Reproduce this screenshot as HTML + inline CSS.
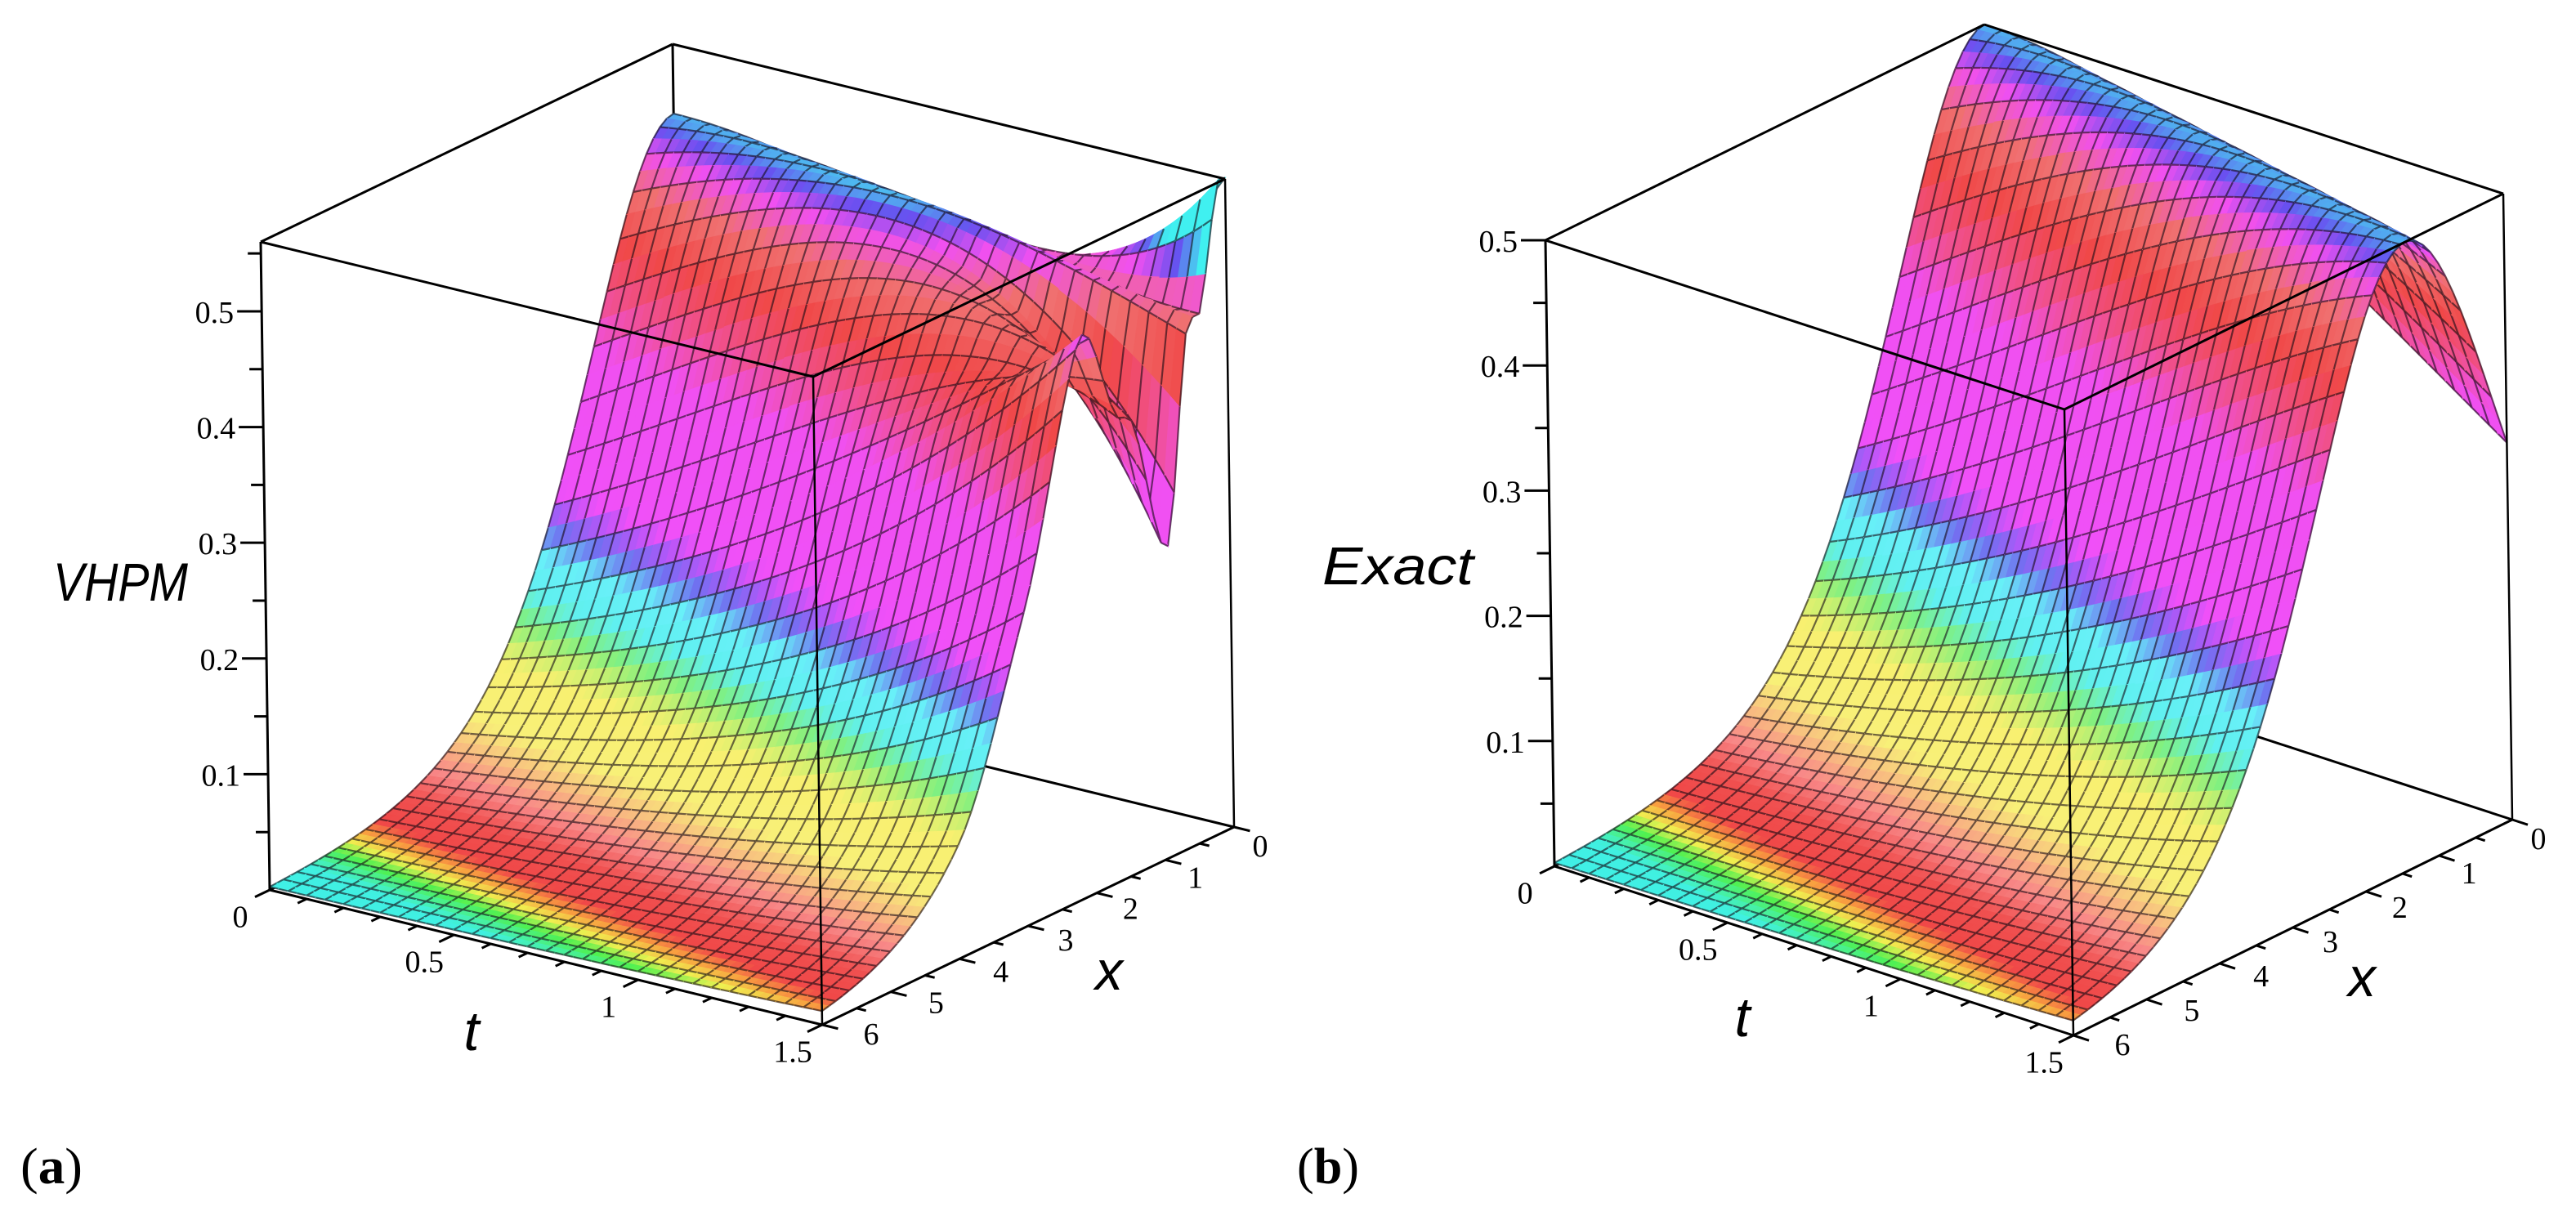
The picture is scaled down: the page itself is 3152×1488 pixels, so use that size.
<!DOCTYPE html>
<html><head><meta charset="utf-8"><style>
html,body{margin:0;padding:0;background:#fff;}
svg{display:block;}
</style></head><body>
<svg id="fig" width="3152" height="1488" viewBox="0 0 3152 1488" xmlns="http://www.w3.org/2000/svg">
<rect x="0" y="0" width="3152" height="1488" fill="#fff"/>
<g id="panelA"></g>
<g id="panelB"></g>
<text x="63" y="1448" font-family="Liberation Serif, serif" font-size="62" text-anchor="middle" textLength="76" lengthAdjust="spacingAndGlyphs">(<tspan font-weight="bold">a</tspan>)</text>
<text x="1625" y="1448" font-family="Liberation Serif, serif" font-size="62" text-anchor="middle" textLength="76" lengthAdjust="spacingAndGlyphs">(<tspan font-weight="bold">b</tspan>)</text>
<text x="65" y="735" font-family="Liberation Sans, sans-serif" font-style="italic" font-size="66" textLength="165" lengthAdjust="spacingAndGlyphs">VHPM</text>
<text x="1618" y="715" font-family="Liberation Sans, sans-serif" font-style="italic" font-size="65" textLength="185" lengthAdjust="spacingAndGlyphs">Exact</text>
</svg>
<script>
// ---- data ----
const tTicks = [0, 0.5, 1, 1.5];
const xTicks = [0, 1, 2, 3, 4, 5, 6];
const zTicksA = [0.1, 0.2, 0.3, 0.4, 0.5];
const zTicksB = [0.1, 0.2, 0.3, 0.4, 0.5];
const solitonAmplitude = [0.5];
const solitonWidth = [0.55];
const solitonSpeed = [0.9];
const vhpmCorrX = [0, 0.5, 0.95, 1.5, 2.2, 3, 4, 6];
const vhpmCorrV = [0.26, 0.05, -0.21, -0.1, 0.07, 0.03, 0, 0];
const colorLevels = [0, 0.005, 0.0075, 0.0095, 0.012, 0.015, 0.024, 0.036, 0.05, 0.065, 0.1, 0.115, 0.13, 0.15, 0.175, 0.195, 0.21, 0.225, 0.33, 0.37, 0.41, 0.45, 0.478, 0.492, 0.505];
const colorValues = ['#40f0f0','#40f0e0','#50f050','#f0f050','#f8a040','#f04848','#f05050','#f88888','#f8c080','#f8f078','#f8f070','#c8f070','#80f080','#60f0f0','#68f0f8','#7070f0','#b058f8','#f050f8','#f050f0','#f05090','#f04848','#f07070','#f050f0','#6850f0','#40f0f0'];

const NS = 'http://www.w3.org/2000/svg';
function sech2(v){ const c = Math.cosh(v); return 1/(c*c); }
function exactU(x,t){ return solitonAmplitude[0]*sech2(solitonWidth[0]*(x - solitonSpeed[0]*t)); }
function corr(x){
  for (let i=0;i<vhpmCorrX.length-1;i++){
    if (x>=vhpmCorrX[i] && x<=vhpmCorrX[i+1]){
      const f=(x-vhpmCorrX[i])/(vhpmCorrX[i+1]-vhpmCorrX[i]);
      const s=(1-Math.cos(Math.PI*f))/2;
      return vhpmCorrV[i]*(1-s)+vhpmCorrV[i+1]*s;
    }
  }
  return 0;
}
function vhpmU(x,t){ return exactU(x,t) + corr(x)*Math.pow(t/1.5,4); }
function hex(c){ return [parseInt(c.slice(1,3),16),parseInt(c.slice(3,5),16),parseInt(c.slice(5,7),16)]; }
function colorOf(z){
  if (z<=colorLevels[0]) return colorValues[0];
  for (let i=0;i<colorLevels.length-1;i++){
    if (z<=colorLevels[i+1]){
      const f=(z-colorLevels[i])/(colorLevels[i+1]-colorLevels[i]);
      const a=hex(colorValues[i]), b=hex(colorValues[i+1]);
      return 'rgb('+Math.round(a[0]+(b[0]-a[0])*f)+','+Math.round(a[1]+(b[1]-a[1])*f)+','+Math.round(a[2]+(b[2]-a[2])*f)+')';
    }
  }
  return colorValues[colorValues.length-1];
}

function drawPanel(g, P, fn, zTicks, tPos, xPos){
  const proj=(t,x,z)=>{ const a=t/1.5,b=(6-x)/6,c=z/P.zmax;
    return [P.O[0]+a*P.Vt[0]+b*P.Vx[0]+c*P.Vz[0], P.O[1]+a*P.Vt[1]+b*P.Vx[1]+c*P.Vz[1]]; };
  const r1=[P.Vt[0],P.Vx[0],P.Vz[0]], r2=[P.Vt[1],P.Vx[1],P.Vz[1]];
  let d=[r1[1]*r2[2]-r1[2]*r2[1], r1[2]*r2[0]-r1[0]*r2[2], r1[0]*r2[1]-r1[1]*r2[0]];
  if (d[2]>0) d=d.map(v=>-v);
  const line=(p,q,name,w)=>{
    const l=document.createElementNS(NS,'line');
    l.setAttribute('x1',p[0]);l.setAttribute('y1',p[1]);l.setAttribute('x2',q[0]);l.setAttribute('y2',q[1]);
    l.setAttribute('stroke','#000');l.setAttribute('stroke-width',w||3);
    
    
    g.appendChild(l);
  };
  const zTop=P.zmax;
  const C={BL:proj(0,6,0),BF:proj(1.5,6,0),BR:proj(1.5,0,0),BK:proj(0,0,0),
           TL:proj(0,6,zTop),TF:proj(1.5,6,zTop),TR:proj(1.5,0,zTop),TK:proj(0,0,zTop)};
  line(C.BK,C.BL,'box-edge-back-left');
  line(C.BK,C.BR,'box-edge-back-right');
  line(C.BK,C.TK,'box-edge-back-vertical');
  const NT=30,NX=30,S=2,MT=NT*S,MX=NX*S;
  const pts=[];
  for(let i=0;i<=MT;i++){ pts.push([]); for(let j=0;j<=MX;j++){
    const t=1.5*i/MT, x=6*j/MX, z=fn(x,t);
    pts[i].push({t:t,x:x,z:z,s:proj(t,x,z),dp:(t/1.5)*d[0]+((6-x)/6)*d[1]+(z/P.zmax)*d[2]}); } }
  const quads=[];
  for(let i=0;i<MT;i++) for(let j=0;j<MX;j++){
    const a=pts[i][j],b=pts[i+1][j],c=pts[i+1][j+1],e=pts[i][j+1];
    quads.push({i:i,j:j,depth:(a.dp+b.dp+c.dp+e.dp)/4,z:(a.z+b.z+c.z+e.z)/4,segs:[]});
  }
  const qid=(i,j)=>i*MX+j;
  const order=quads.slice().sort((p,q)=>q.depth-p.depth);
  order.forEach((q,k)=>{q.rank=k;});
  const own=(q1,q2,seg)=>{ let o=q1; if(!o||(q2&&q2.rank>o.rank)) o=q2; o.segs.push(seg); };
  for(let i=0;i<=MT;i+=S) for(let j=0;j<MX;j++){
    own(i>0?quads[qid(i-1,j)]:null, i<MT?quads[qid(i,j)]:null, [pts[i][j].s,pts[i][j+1].s]); }
  for(let j=0;j<=MX;j+=S) for(let i=0;i<MT;i++){
    own(j>0?quads[qid(i,j-1)]:null, j<MX?quads[qid(i,j)]:null, [pts[i][j].s,pts[i+1][j].s]); }
  const frag=document.createDocumentFragment();
  for(const q of order){
    const a=pts[q.i][q.j].s,b=pts[q.i+1][q.j].s,c=pts[q.i+1][q.j+1].s,e=pts[q.i][q.j+1].s;
    const col=colorOf(q.z);
    const pg=document.createElementNS(NS,'polygon');
    pg.setAttribute('points',a.map(v=>v.toFixed(1)).join(',')+' '+b.map(v=>v.toFixed(1)).join(',')+' '+c.map(v=>v.toFixed(1)).join(',')+' '+e.map(v=>v.toFixed(1)).join(','));
    pg.setAttribute('fill',col);pg.setAttribute('stroke',col);pg.setAttribute('stroke-width','1.2');
    
    
    frag.appendChild(pg);
    if(q.segs.length){
      const pa=document.createElementNS(NS,'path');
      pa.setAttribute('d',q.segs.map(s=>'M'+s[0][0].toFixed(1)+' '+s[0][1].toFixed(1)+'L'+s[1][0].toFixed(1)+' '+s[1][1].toFixed(1)).join(''));
      pa.setAttribute('stroke','rgba(20,10,20,0.6)');pa.setAttribute('stroke-width','2.2');pa.setAttribute('fill','none');
      
      
      frag.appendChild(pa);
    }
  }
  g.appendChild(frag);
  line(C.TL,C.TK,'box-edge-top-back-left');
  line(C.TK,C.TR,'box-edge-top-back-right');
  line(C.TR,C.TF,'box-edge-top-front-right');
  line(C.TF,C.TL,'box-edge-top-front-left');
  line(C.TL,C.BL,'z-axis-line');
  line(C.TF,C.BF,'box-edge-front-vertical',2.5);
  line(C.TR,C.BR,'box-edge-right-vertical',2.5);
  line(C.BL,C.BF,'t-axis-line');
  line(C.BF,C.BR,'x-axis-line');
  const txt=(x,y,s,name,anchor)=>{
    const e=document.createElementNS(NS,'text');
    e.setAttribute('x',x);e.setAttribute('y',y);e.textContent=s;
    e.setAttribute('font-family','Liberation Serif, serif');e.setAttribute('font-size','38');
    e.setAttribute('text-anchor',anchor||'middle');e.setAttribute('dominant-baseline','central');
    
    
    g.appendChild(e);
  };
  for(let k=1;k*0.05<=P.zmax+1e-9;k++){
    const z=k*0.05,p=proj(0,6,z),major=(k%2===0);
    line([p[0]-(major?30:16),p[1]],p,major?'z-tick-major':'z-tick-minor',3);
  }
  zTicks.forEach(z=>{const p=proj(0,6,z); txt(p[0]-34,p[1]+2,String(z),'z-tick-label','end');});
  const vxl=Math.hypot(P.Vx[0],P.Vx[1]), vxn=[P.Vx[0]/vxl,P.Vx[1]/vxl];
  for(let k=0;k<=15;k++){ const t=k*0.1,p=proj(t,6,0),L=(k%5===0)?20:12;
    line(p,[p[0]-vxn[0]*L,p[1]-vxn[1]*L],'t-tick',3); }
  tTicks.forEach(t=>{const p=proj(t,6,0); txt(p[0]-vxn[0]*40,p[1]-vxn[1]*40+16,String(t),'t-tick-label');});
  const vtl=Math.hypot(P.Vt[0],P.Vt[1]), vtn=[P.Vt[0]/vtl,P.Vt[1]/vtl];
  for(let k=0;k<=12;k++){ const x=k*0.5,p=proj(1.5,x,0),L=(k%2===0)?20:12;
    line(p,[p[0]+vtn[0]*L,p[1]+vtn[1]*L],'x-tick',3); }
  xTicks.forEach(x=>{const p=proj(1.5,x,0); const f=x/6;
    txt(p[0]+32+28*f,p[1]+24-12*f,String(x),'x-tick-label');});
  const big=(x,y,s,name)=>{
    const e=document.createElementNS(NS,'text');
    e.setAttribute('x',x);e.setAttribute('y',y);e.textContent=s;
    e.setAttribute('font-family','Liberation Sans, sans-serif');e.setAttribute('font-style','italic');
    e.setAttribute('font-size','68');e.setAttribute('text-anchor','middle');e.setAttribute('dominant-baseline','central');
    
    
    g.appendChild(e);
  };
  big(tPos[0],tPos[1],'t','t-axis-title');
  big(xPos[0],xPos[1],'x','x-axis-title');
}

drawPanel(document.getElementById('panelA'),
  {O:[330,1089],Vt:[676,165],Vx:[504,-242],Vz:[-11,-793],zmax:0.56},
  vhpmU, zTicksA, [577,1262], [1357,1188]);
drawPanel(document.getElementById('panelB'),
  {O:[1902,1060],Vt:[635,207],Vx:[537,-264],Vz:[-11,-766],zmax:0.5},
  exactU, zTicksB, [2132,1245], [2890,1196]);
</script>
</body></html>
